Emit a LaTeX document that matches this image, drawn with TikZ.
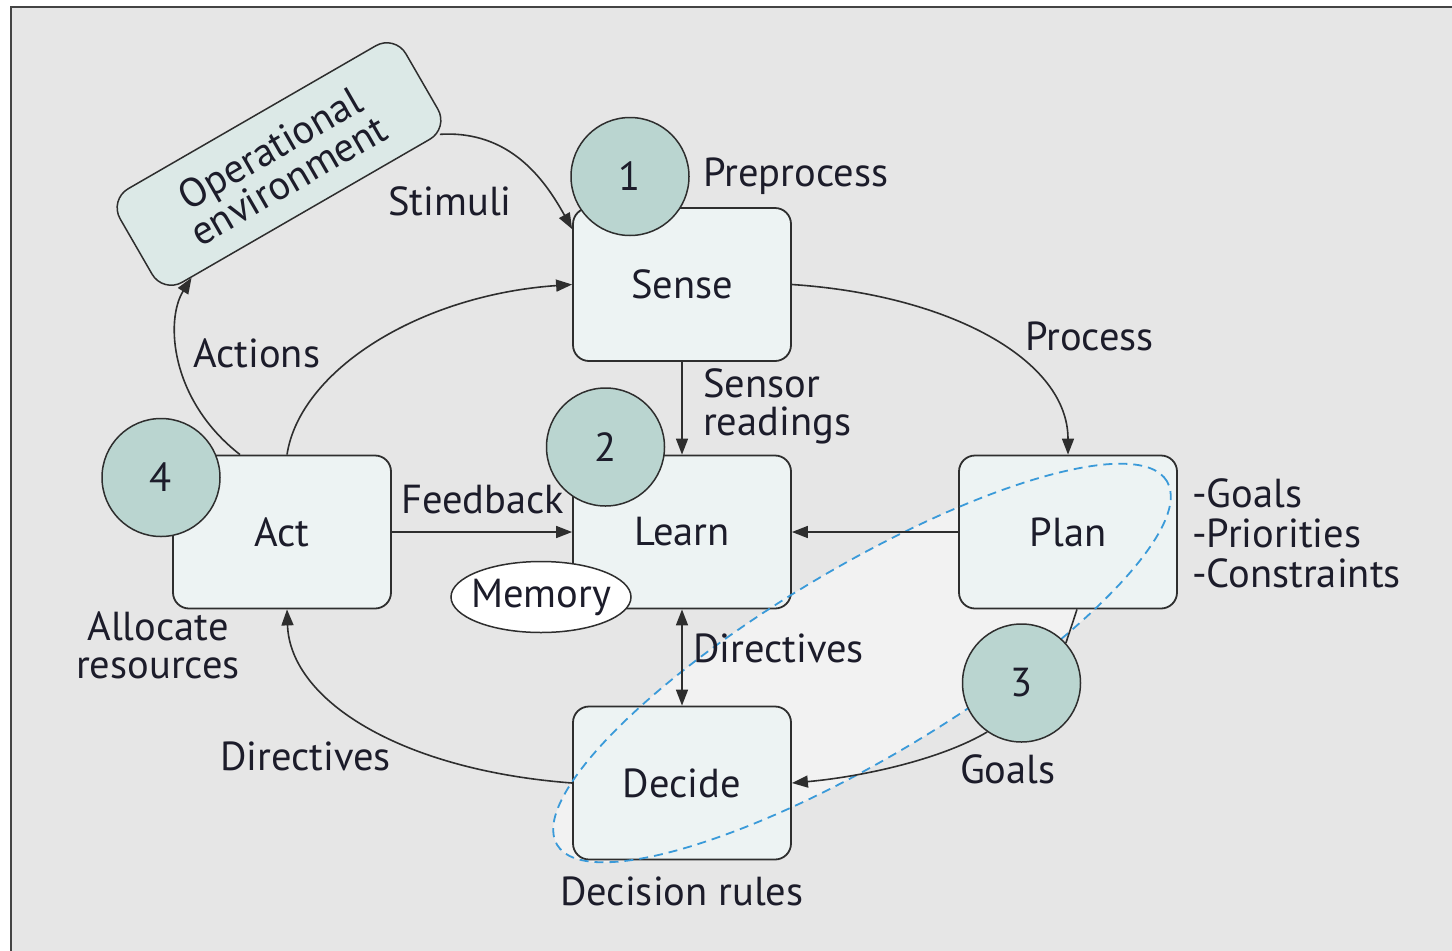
\documentclass[tikz,border=0pt]{standalone}
\usepackage{fontspec}
\setmainfont{PT Sans}
\usetikzlibrary{arrows.meta,calc,shapes.geometric}
\definecolor{bgc}{HTML}{E6E6E6}
\definecolor{lightc}{HTML}{F2F2F2}
\definecolor{boxc}{HTML}{EDF3F3}
\definecolor{circc}{HTML}{BAD5D0}
\definecolor{envc}{HTML}{DCE9E7}
\definecolor{linec}{HTML}{2E2E2E}
\definecolor{framec}{HTML}{444444}
\definecolor{textc}{HTML}{1C1C2A}
\definecolor{dashc}{HTML}{3A9AD9}
\begin{document}
\begin{tikzpicture}[x=1pt,y=-1pt,
  font=\fontsize{40.5}{41}\selectfont,
  lbl/.style={text=textc, inner sep=0pt},
  box/.style={draw=linec, line width=1.8pt, fill=boxc, rounded corners=16pt,
    minimum width=218pt, minimum height=153pt, inner sep=0pt, text=textc},
  num/.style={circle, draw=linec, line width=1.5pt, fill=circc,
    minimum size=118pt, inner sep=0pt, text=textc},
  link/.style={draw=linec, line width=1.6pt},
  conn/.style={link, -{Triangle[length=16pt,width=12pt]}},
  dconn/.style={link, {Triangle[length=16pt,width=12pt]}-{Triangle[length=16pt,width=12pt]}},
]
\useasboundingbox (0,0) rectangle (1452,951);
\fill[white] (0,0) rectangle (1452,951);
\fill[bgc] (11,7) rectangle (1452,951);
\draw[framec, line width=2pt] (11,951) -- (11,7) -- (1452,7);

% lighter zone inside the dashed ellipse
\fill[lightc, shift={(862,663)}, rotate=30.8] (0,0) ellipse [x radius=355pt, y radius=95pt];

% boxes
\node[box] (sense)  at (682,284.5) {Sense};
\node[box] (learn)  at (682,532) {Learn};
\node[box] (plan)   at (1068,532) {Plan};
\node[box] (act)    at (282,532) {Act};
\node[box] (decide) at (682,783) {Decide};

\node[draw=linec, line width=1.5pt, fill=envc, rounded corners=22pt, rotate=30,
  minimum width=330pt, minimum height=108pt, align=center, text=textc,
  font=\fontsize{40.5}{37}\selectfont] (env) at (279,164) {Operational\\environment};

\node[ellipse, draw=linec, line width=1.5pt, fill=white, minimum width=180pt,
  minimum height=71pt, inner xsep=-10pt, inner ysep=0pt, text=textc] (mem) at (541,597) {Memory};

% dashed grouping ellipse
\draw[dashc, line width=1.8pt, dash pattern=on 9pt off 6pt, shift={(862,663)}, rotate=30.8] (0,0) ellipse [x radius=355pt, y radius=95pt];

% numbered circles
\node[num] (c1) at (630,176.5) {1};
\node[num] (c2) at (605.5,447) {2};
\node[num] (c3) at (1021.5,683) {3};
\node[num] (c4) at (161,477.5) {4};

% connectors
\draw[conn] ($(env.south)!0.93!(env.south east)$) .. controls (510,130) and (545,180) .. ([yshift=-22pt]sense.north west);
\draw[conn] ([xshift=-42pt]act.north) .. controls (170,400) and (165,320) .. ($(env.south)!0.8!(env.south west)$);
\draw[conn] ([xshift=5pt]act.north) .. controls (300,370) and (420,295) .. (sense.west);
\draw[conn] (sense.east) .. controls (950,295) and (1068,360) .. (plan.north);
\draw[conn] (sense.south) -- (learn.north);
\draw[conn] (act.east) -- (learn.west);
\draw[conn] (plan.west) -- (learn.east);
\draw[dconn] (learn.south) -- (decide.north);
\draw[link] ([xshift=9pt]plan.south) -- (c3.42);
\draw[conn] (c3.235) .. controls (940,760) and (860,777) .. (decide.east);
\draw[conn] (decide.west) .. controls (400,770) and (290,700) .. ([xshift=5pt]act.south);

% labels
\node[lbl, anchor=base west] (lstim) at (388,215) {Stimuli};
\node[lbl, anchor=base west] (lpre) at (703,186) {Preprocess};
\node[lbl, anchor=base west] (lproc) at (1025,350) {Process};
\node[lbl, anchor=base west] (lact) at (193,367) {Actions};
\node[lbl, anchor=base west] (lsen1) at (703,397) {Sensor};
\node[lbl, anchor=base west] (lsen2) at (703,435) {readings};
\node[lbl, anchor=base west] (lfeed) at (401,513) {Feedback};
\node[lbl, anchor=base west] (lg1) at (1192,507) {-Goals};
\node[lbl, anchor=base west] (lg2) at (1192,547) {-Priorities};
\node[lbl, anchor=base west] (lg3) at (1192,587) {-Constraints};
\node[lbl, anchor=base] (lal1) at (158,640) {Allocate};
\node[lbl, anchor=base] (lal2) at (158,678) {resources};
\node[lbl, anchor=base west] (ldir1) at (220,770) {Directives};
\node[lbl, anchor=base west] (ldir2) at (693,662) {Directives};
\node[lbl, anchor=base west] (ldec) at (560,905) {Decision rules};
\node[lbl, anchor=base west] (lgoal) at (960,783) {Goals};
\end{tikzpicture}
\end{document}
